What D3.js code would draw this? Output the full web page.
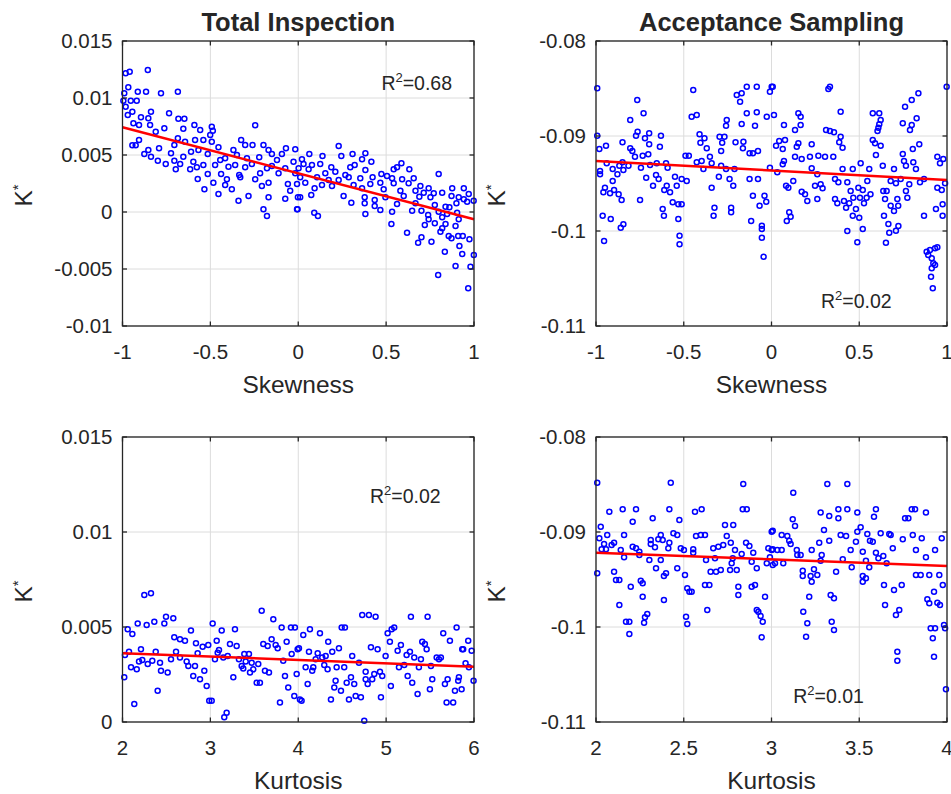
<!DOCTYPE html>
<html>
<head>
<meta charset="utf-8">
<script src="https://cdn.jsdelivr.net/npm/d3@7"></script>
<style>
  html, body { margin: 0; padding: 0; background: #ffffff; }
  svg { display: block; }
  text { font-family: "Liberation Sans", Arial, Helvetica, sans-serif; fill: #262626; }
</style>
</head>
<body>
<svg id="chart" width="951" height="794"></svg>
<script>
// ---------------- DATA ----------------
const titles = ["Total Inspection", "Acceptance Sampling"];
const xLabels = ["Skewness", "Kurtosis"];
const yLabel = "K";

const skewTicks = [-1, -0.5, 0, 0.5, 1];
const skewTickLabels = ["-1", "-0.5", "0", "0.5", "1"];
const kurtTiTicks = [2, 3, 4, 5, 6];
const kurtTiTickLabels = ["2", "3", "4", "5", "6"];
const kurtAsTicks = [2, 2.5, 3, 3.5, 4];
const kurtAsTickLabels = ["2", "2.5", "3", "3.5", "4"];
const tiSkewYTicks = [-0.01, -0.005, 0, 0.005, 0.01, 0.015];
const tiSkewYTickLabels = ["-0.01", "-0.005", "0", "0.005", "0.01", "0.015"];
const tiKurtYTicks = [0, 0.005, 0.01, 0.015];
const tiKurtYTickLabels = ["0", "0.005", "0.01", "0.015"];
const asYTicks = [-0.11, -0.1, -0.09, -0.08];
const asYTickLabels = ["-0.11", "-0.1", "-0.09", "-0.08"];

const r2Values = ["0.68", "0.02", "0.02", "0.01"];

// fitted regression lines [x, K*] at both ends
const tiSkewFit = [[-1, 0.00743], [1, -0.00064]];
const asSkewFit = [[-1, -0.09263], [1, -0.09463]];
const tiKurtFit = [[2, 0.00362], [6, 0.00291]];
const asKurtFit = [[2, -0.09218], [4, -0.09358]];

// Total Inspection vs Skewness
const tiSkew = [[-0.982,0.01217],[-0.959,0.01231],[-0.856,0.01246],[-0.967,0.01094],[-0.990,0.01041],[-0.913,0.01055],[-0.866,0.01055],[-0.781,0.01041],[-0.685,0.01055],[-0.995,0.00976],[-0.953,0.00976],[-0.919,0.00976],[-0.982,0.00924],[-0.944,0.0088],[-0.838,0.0088],[-0.735,0.00866],[-0.970,0.00851],[-0.895,0.00831],[-0.853,0.00822],[-0.682,0.00818],[-0.648,0.00818],[-0.938,0.00778],[-0.906,0.00763],[-0.843,0.00763],[-0.591,0.00763],[-0.492,0.00748],[-0.245,0.00761],[-0.762,0.00734],[-0.654,0.00731],[-0.558,0.00719],[-0.486,0.00713],[-0.811,0.00704],[-0.501,0.00675],[-0.685,0.00646],[-0.587,0.00632],[-0.540,0.00632],[-0.325,0.00632],[-0.906,0.00632],[-0.944,0.00585],[-0.925,0.00585],[-0.792,0.00559],[-0.705,0.00588],[-0.644,0.00617],[-0.492,0.00617],[-0.302,0.00588],[-0.260,0.00588],[-0.198,0.00588],[-0.070,0.00559],[-0.017,0.0055],[-0.454,0.00568],[-0.568,0.00544],[-0.369,0.00544],[-0.853,0.00544],[-0.876,0.00509],[-0.724,0.00515],[-0.610,0.00529],[-0.515,0.00509],[-0.349,0.005],[-0.169,0.00544],[-0.150,0.00509],[-0.093,0.00509],[-0.222,0.0048],[-0.838,0.00485],[-0.654,0.00485],[-0.416,0.00471],[-0.292,0.00471],[-0.799,0.0045],[-0.705,0.0045],[-0.597,0.00441],[-0.444,0.00456],[-0.121,0.00456],[-0.027,0.00441],[-0.754,0.00421],[-0.672,0.00421],[-0.540,0.00412],[-0.473,0.00412],[-0.359,0.00412],[-0.264,0.00421],[-0.150,0.00404],[-0.697,0.00375],[-0.615,0.00375],[-0.577,0.00392],[-0.397,0.00397],[-0.302,0.00392],[-0.178,0.00383],[-0.074,0.00383],[-0.515,0.00333],[-0.439,0.00333],[-0.336,0.00325],[-0.217,0.00339],[-0.112,0.00339],[-0.017,0.00339],[-0.572,0.00289],[-0.406,0.00287],[-0.245,0.00287],[-0.330,0.00304],[-0.483,0.00257],[-0.416,0.00237],[-0.207,0.00228],[-0.169,0.00257],[-0.059,0.00246],[-0.007,0.00246],[-0.534,0.00199],[-0.378,0.00199],[-0.046,0.00187],[-0.454,0.00158],[-0.283,0.0014],[-0.169,0.00129],[-0.074,0.00117],[-0.002,0.00129],[-0.340,0.00099],[-0.198,0.00024],[-0.007,0.00024],[-0.178,-0.00035],
[0.063,0.00509],[0.230,0.00579],[0.309,0.00509],[0.382,0.00515],[0.021,0.00462],[0.138,0.00491],[0.245,0.00491],[0.363,0.00462],[0.030,0.00421],[0.078,0.00412],[0.125,0.00421],[0.188,0.00392],[0.296,0.00392],[0.416,0.00441],[0.321,0.00412],[0.002,0.00383],[0.059,0.00375],[0.154,0.00339],[0.211,0.00354],[0.268,0.00325],[0.382,0.00368],[0.543,0.00375],[0.587,0.00427],[0.562,0.00392],[0.632,0.00375],[0.799,0.00333],[0.473,0.00333],[0.505,0.00316],[0.423,0.00304],[0.353,0.00296],[0.011,0.00304],[0.107,0.00304],[0.173,0.00281],[0.230,0.00281],[0.287,0.00304],[0.534,0.00296],[0.591,0.00287],[0.657,0.00296],[0.040,0.00257],[0.135,0.00237],[0.192,0.00228],[0.315,0.00237],[0.410,0.00246],[0.467,0.00257],[0.543,0.00252],[0.628,0.00252],[0.695,0.00228],[0.742,0.00208],[0.876,0.00208],[0.942,0.00208],[0.093,0.00208],[0.363,0.00208],[0.486,0.00199],[0.581,0.00187],[0.667,0.00187],[0.714,0.00169],[0.771,0.00164],[0.819,0.00169],[0.970,0.00158],[0.998,0.00099],[0.074,0.00149],[0.011,0.00129],[0.258,0.0014],[0.378,0.00129],[0.435,0.00105],[0.496,0.00129],[0.600,0.0014],[0.689,0.00134],[0.752,0.00129],[0.872,0.0014],[0.913,0.00129],[0.942,0.00111],[0.961,0.0009],[0.302,0.00082],[0.378,0.00076],[0.435,0.00053],[0.562,0.0007],[0.667,0.00076],[0.777,0.00061],[0.838,0.00046],[0.860,0.00041],[0.900,0.00076],[-0.004,0.00024],[0.467,0.00018],[0.534,0.00003],[0.648,0.00011],[0.701,0.00011],[0.799,0.00003],[0.847,-0.00018],[0.904,-0.00006],[0.091,-0.00006],[0.112,-0.00035],[0.382,-0.00018],[0.739,-0.00026],[0.819,-0.00046],[0.913,-0.00064],[0.742,-0.00064],[0.777,-0.00099],[0.530,-0.00105],[0.720,-0.00114],[0.838,-0.00105],[0.895,-0.00123],[0.819,-0.00143],[0.619,-0.00182],[0.701,-0.00222],[0.809,-0.00173],[0.856,-0.00211],[0.872,-0.00231],[0.910,-0.00211],[0.936,-0.00211],[0.682,-0.00269],[0.758,-0.00261],[0.974,-0.00239],[0.917,-0.00298],[0.834,-0.00348],[0.933,-0.00368],[0.999,-0.00377],[0.895,-0.00474],[0.980,-0.0048],[0.796,-0.00553],[0.967,-0.00669]];

// Acceptance Sampling vs Skewness
const asSkew = [[-0.993,-0.08498],[-0.765,-0.08621],[-0.729,-0.08761],[-0.805,-0.08832],[-0.446,-0.08516],[-0.455,-0.08797],[-0.426,-0.08779],[-0.141,-0.08481],[-0.084,-0.08481],[-0.198,-0.08568],[-0.170,-0.08551],[-0.179,-0.08639],[0.001,-0.08481],[-0.009,-0.08534],[-0.141,-0.08761],[-0.084,-0.08751],[-0.027,-0.08797],[-0.255,-0.08832],[-0.259,-0.08892],[-0.170,-0.08874],[-0.094,-0.08892],[-0.993,-0.08997],[-0.981,-0.09137],[-0.943,-0.09102],[-0.772,-0.08997],[-0.763,-0.08955],[-0.721,-0.09024],[-0.697,-0.08971],[-0.630,-0.08997],[-0.849,-0.09066],[-0.697,-0.09087],[-0.636,-0.09113],[-0.805,-0.09129],[-0.793,-0.09158],[-0.410,-0.08982],[-0.382,-0.09024],[-0.405,-0.09071],[-0.369,-0.09129],[-0.296,-0.09007],[-0.268,-0.09007],[-0.281,-0.09071],[-0.287,-0.09158],[-0.205,-0.09066],[-0.160,-0.0906],[-0.163,-0.09129],[-0.125,-0.09182],[-0.106,-0.09182],[-0.077,-0.09158],[-0.490,-0.09207],[-0.471,-0.09207],[-0.939,-0.09287],[-0.867,-0.09313],[-0.849,-0.09277],[-0.778,-0.09218],[-0.734,-0.09207],[-0.702,-0.09193],[-0.654,-0.09287],[-0.601,-0.09287],[-0.905,-0.09347],[-0.815,-0.09313],[-0.744,-0.09334],[-0.592,-0.09334],[-0.692,-0.09305],[-0.426,-0.09277],[-0.398,-0.09263],[-0.351,-0.09218],[-0.341,-0.09287],[-0.388,-0.09347],[-0.287,-0.09313],[-0.259,-0.09347],[-0.211,-0.09347],[-0.977,-0.09368],[-0.977,-0.09403],[-0.878,-0.09403],[-0.844,-0.09358],[-0.714,-0.09439],[-0.658,-0.09411],[-0.550,-0.09428],[-0.512,-0.09453],[-0.483,-0.09474],[-0.300,-0.09428],[-0.239,-0.09453],[-0.125,-0.09453],[-0.077,-0.09453],[-0.905,-0.09474],[-0.949,-0.09544],[-0.897,-0.09568],[-0.920,-0.09603],[-0.958,-0.09593],[-0.871,-0.09614],[-0.675,-0.09523],[-0.643,-0.09453],[-0.611,-0.09568],[-0.597,-0.09523],[-0.578,-0.09593],[-0.540,-0.09523],[-0.341,-0.09544],[-0.218,-0.09523],[-0.106,-0.09628],[-0.040,-0.09628],[-0.854,-0.09674],[-0.749,-0.09674],[-0.563,-0.09698],[-0.531,-0.09719],[-0.512,-0.09719],[-0.068,-0.09734],[-0.030,-0.09692],[-0.620,-0.09768],[-0.613,-0.09839],[-0.325,-0.09755],[-0.330,-0.09839],[-0.230,-0.09755],[-0.230,-0.09803],[-0.962,-0.09839],[-0.916,-0.09874],[-0.531,-0.09874],[-0.116,-0.09895],[-0.844,-0.09929],[-0.859,-0.09965],[-0.055,-0.09944],[-0.055,-0.09979],[-0.954,-0.10105],[-0.524,-0.10049],[-0.524,-0.1014],[-0.055,-0.1007],[-0.045,-0.10271],
[0.007,-0.08481],[0.333,-0.08481],[0.324,-0.08505],[0.837,-0.08551],[0.799,-0.08621],[0.761,-0.08691],[0.998,-0.08481],[0.394,-0.08744],[0.153,-0.08761],[0.166,-0.08797],[0.014,-0.08779],[0.577,-0.08761],[0.614,-0.08761],[0.622,-0.08832],[0.827,-0.08814],[0.748,-0.08867],[0.614,-0.08877],[0.071,-0.08884],[0.166,-0.08884],[0.134,-0.08937],[0.609,-0.08912],[0.604,-0.08947],[0.799,-0.08884],[0.789,-0.08937],[0.311,-0.08937],[0.333,-0.08947],[0.356,-0.08961],[0.394,-0.09007],[0.044,-0.09053],[0.077,-0.09042],[0.026,-0.09102],[0.064,-0.09137],[0.153,-0.09077],[0.144,-0.09113],[0.229,-0.09087],[0.386,-0.09066],[0.405,-0.09123],[0.577,-0.09042],[0.590,-0.09077],[0.622,-0.09102],[0.842,-0.09087],[0.805,-0.09137],[0.134,-0.09218],[0.172,-0.09242],[0.219,-0.09218],[0.267,-0.09207],[0.305,-0.09218],[0.352,-0.09218],[0.071,-0.09263],[0.595,-0.092],[0.748,-0.09189],[0.755,-0.09263],[0.808,-0.09277],[0.766,-0.09313],[0.823,-0.09347],[0.945,-0.09218],[0.979,-0.09242],[0.960,-0.09287],[-0.009,-0.09334],[0.064,-0.09298],[0.033,-0.09382],[0.229,-0.0934],[0.261,-0.09403],[0.405,-0.09347],[0.463,-0.09347],[0.508,-0.09287],[0.557,-0.09347],[0.634,-0.09313],[0.698,-0.09347],[0.362,-0.09453],[0.381,-0.09488],[0.432,-0.09488],[0.546,-0.09474],[0.679,-0.09474],[0.709,-0.09498],[0.736,-0.09453],[0.785,-0.09508],[0.846,-0.09488],[0.869,-0.09453],[0.989,-0.09498],[0.083,-0.09523],[0.124,-0.09474],[0.096,-0.09544],[0.248,-0.09523],[0.280,-0.09508],[0.291,-0.09551],[0.495,-0.09544],[0.520,-0.09568],[0.637,-0.09579],[0.656,-0.09579],[0.766,-0.09579],[0.945,-0.09544],[0.970,-0.09568],[0.172,-0.09586],[0.191,-0.09614],[0.451,-0.09579],[0.466,-0.09649],[0.504,-0.09649],[0.542,-0.09649],[0.564,-0.09614],[0.362,-0.09663],[0.204,-0.09684],[0.261,-0.09663],[0.413,-0.09684],[0.647,-0.09663],[0.717,-0.09663],[0.774,-0.09649],[0.375,-0.09709],[0.443,-0.09709],[0.527,-0.09709],[0.425,-0.09755],[0.481,-0.09768],[0.679,-0.09734],[0.722,-0.09734],[0.698,-0.09789],[0.937,-0.09768],[0.975,-0.09719],[0.101,-0.09803],[0.109,-0.09849],[0.087,-0.09895],[0.463,-0.09839],[0.500,-0.0986],[0.641,-0.09839],[0.869,-0.09839],[0.975,-0.09839],[0.666,-0.09926],[0.723,-0.09947],[0.432,-0.1],[0.520,-0.09979],[0.709,-0.09997],[0.671,-0.10018],[0.489,-0.10119],[0.652,-0.10123],[0.884,-0.10218],[0.903,-0.102],[0.932,-0.10182],[0.945,-0.10172],[0.893,-0.10253],[0.913,-0.10287],[0.922,-0.1034],[0.932,-0.10358],[0.913,-0.10393],[0.909,-0.10481],[0.919,-0.10603]];

// Total Inspection vs Kurtosis
const tiKurt = [[2.248,0.00668],[2.324,0.00677],[2.059,0.00488],[2.112,0.00463],[2.173,0.00519],[2.275,0.00511],[2.362,0.00528],[2.476,0.00519],[2.495,0.00554],[2.578,0.00546],[2.779,0.00481],[2.589,0.00446],[2.654,0.00435],[2.711,0.00428],[2.836,0.00414],[2.912,0.00396],[2.976,0.00405],[3.026,0.00519],[3.129,0.00481],[3.280,0.00488],[3.072,0.00428],[3.223,0.00411],[3.299,0.004],[3.584,0.00586],[3.716,0.00541],[3.811,0.00498],[3.917,0.00498],[3.962,0.00498],[3.602,0.00411],[3.697,0.00435],[3.652,0.004],[3.743,0.00405],[3.766,0.00388],[3.868,0.00423],[3.993,0.00383],[2.074,0.0037],[2.210,0.00383],[2.378,0.0037],[2.609,0.0037],[2.855,0.00362],[3.098,0.00379],[3.083,0.00365],[3.197,0.00347],[3.386,0.00358],[3.439,0.00358],[3.925,0.00358],[2.028,0.00353],[2.225,0.00326],[2.339,0.00323],[2.552,0.0033],[2.654,0.0034],[3.052,0.0033],[3.147,0.0034],[2.188,0.00318],[2.287,0.00305],[2.427,0.00312],[2.730,0.00318],[3.325,0.0033],[3.402,0.00318],[3.470,0.00312],[3.545,0.00305],[3.829,0.00323],[2.749,0.00295],[2.825,0.00295],[3.356,0.00295],[2.097,0.00288],[2.162,0.00277],[2.438,0.0027],[2.514,0.0026],[2.931,0.0027],[3.374,0.00282],[3.451,0.0026],[3.488,0.00277],[3.621,0.0027],[3.667,0.0026],[2.020,0.00235],[2.805,0.00242],[2.882,0.00225],[3.261,0.00235],[3.849,0.00242],[3.982,0.00253],[2.958,0.00189],[2.400,0.00165],[3.527,0.00207],[3.564,0.00207],[3.886,0.00182],[3.955,0.00137],[2.987,0.00112],[3.015,0.00112],[2.134,0.00095],[3.792,0.00102],[3.185,0.00049],[3.158,0.00025],
[4.728,0.00563],[4.804,0.00563],[4.880,0.00554],[5.282,0.00554],[5.472,0.00554],[4.494,0.00498],[4.531,0.00498],[4.133,0.00488],[4.247,0.00467],[4.057,0.00458],[4.341,0.00423],[5.063,0.00488],[5.092,0.00498],[5.017,0.00467],[5.043,0.00423],[5.411,0.00423],[5.441,0.00411],[5.168,0.00405],[5.131,0.00375],[5.461,0.00383],[5.650,0.00467],[5.802,0.00498],[5.726,0.00428],[5.934,0.00428],[5.866,0.00383],[5.973,0.00375],[4.008,0.00388],[4.122,0.0037],[4.221,0.00362],[4.312,0.00347],[4.463,0.00388],[4.387,0.0037],[4.614,0.00347],[4.827,0.00393],[4.903,0.00383],[4.994,0.00347],[5.233,0.00353],[5.271,0.0037],[5.320,0.0034],[5.396,0.0033],[5.575,0.0034],[5.601,0.0033],[5.623,0.0034],[5.877,0.00383],[4.198,0.0033],[4.273,0.0034],[4.691,0.00312],[5.904,0.00309],[4.084,0.00288],[4.171,0.00288],[4.296,0.003],[4.334,0.00277],[4.437,0.00288],[4.523,0.00288],[4.159,0.0027],[5.146,0.00288],[5.206,0.003],[5.373,0.00288],[5.510,0.00295],[5.942,0.00288],[4.767,0.00265],[4.865,0.00253],[4.930,0.00265],[4.956,0.00242],[5.245,0.00242],[4.425,0.00217],[4.551,0.00207],[4.600,0.00235],[4.637,0.002],[4.767,0.00225],[4.790,0.002],[4.842,0.00225],[5.297,0.00207],[5.525,0.00225],[5.700,0.00225],[5.669,0.002],[5.828,0.00235],[5.820,0.00217],[5.995,0.00217],[4.107,0.002],[4.410,0.00182],[4.486,0.00165],[5.054,0.00189],[5.498,0.00172],[5.859,0.00172],[5.783,0.00165],[4.019,0.00119],[4.038,0.00112],[4.372,0.00119],[4.577,0.00119],[4.653,0.00137],[4.713,0.0013],[4.941,0.0013],[5.358,0.00147],[5.688,0.00102],[5.763,0.00102],[4.751,0.00007]];

// Acceptance Sampling vs Kurtosis
const asKurt = [[2.007,-0.08481],[2.426,-0.08481],[2.839,-0.08495],[2.076,-0.08786],[2.152,-0.08761],[2.228,-0.08761],[2.418,-0.08761],[2.209,-0.08891],[2.323,-0.08856],[2.475,-0.08874],[2.564,-0.08786],[2.602,-0.08761],[2.836,-0.08761],[2.859,-0.08761],[2.735,-0.08926],[2.782,-0.08926],[2.027,-0.08944],[2.064,-0.09032],[2.160,-0.09032],[2.019,-0.09066],[2.046,-0.09126],[2.089,-0.09137],[2.103,-0.09113],[2.032,-0.09182],[2.057,-0.09182],[2.141,-0.09189],[2.160,-0.09266],[2.209,-0.09155],[2.228,-0.09172],[2.247,-0.09207],[2.247,-0.09242],[2.312,-0.09084],[2.312,-0.09126],[2.336,-0.09161],[2.369,-0.09032],[2.355,-0.09077],[2.380,-0.09084],[2.418,-0.09113],[2.412,-0.09172],[2.441,-0.09014],[2.463,-0.09032],[2.483,-0.09172],[2.501,-0.09189],[2.554,-0.09182],[2.554,-0.09218],[2.570,-0.09042],[2.597,-0.09032],[2.621,-0.09032],[2.668,-0.09172],[2.697,-0.09155],[2.725,-0.09137],[2.745,-0.09042],[2.768,-0.09113],[2.792,-0.09189],[2.855,-0.09113],[2.874,-0.09147],[2.896,-0.09218],[2.830,-0.09232],[3.001,-0.08997],[2.982,-0.09172],[3.001,-0.09189],[2.304,-0.09295],[2.369,-0.09295],[2.627,-0.09295],[2.678,-0.09277],[2.779,-0.09277],[2.887,-0.09313],[2.973,-0.0933],[3.007,-0.09347],[2.342,-0.09382],[2.463,-0.09382],[2.773,-0.0933],[2.802,-0.094],[2.764,-0.094],[2.916,-0.09382],[2.007,-0.09435],[2.103,-0.09418],[2.653,-0.09418],[2.684,-0.09418],[2.711,-0.094],[2.399,-0.09435],[2.387,-0.09463],[2.507,-0.09453],[2.114,-0.09505],[2.133,-0.09505],[2.255,-0.09512],[2.266,-0.0954],[2.198,-0.09576],[2.520,-0.09593],[2.532,-0.09628],[2.545,-0.09628],[2.621,-0.09558],[2.646,-0.09558],[2.811,-0.09576],[2.811,-0.09663],[2.887,-0.09576],[2.906,-0.09558],[2.266,-0.09681],[2.387,-0.09716],[2.963,-0.09681],[2.133,-0.09768],[2.634,-0.09821],[2.916,-0.09821],[2.925,-0.09839],[2.938,-0.09884],[2.950,-0.09944],[2.292,-0.09863],[2.279,-0.09898],[2.274,-0.09954],[2.513,-0.09891],[2.520,-0.09968],[2.171,-0.09944],[2.190,-0.09944],[2.190,-0.10074],[2.944,-0.10109],
[3.318,-0.08495],[3.432,-0.08495],[3.124,-0.08586],[3.280,-0.08796],[3.329,-0.08832],[3.381,-0.08761],[3.432,-0.08761],[3.489,-0.08796],[3.381,-0.08856],[3.595,-0.08761],[3.584,-0.08839],[3.761,-0.08856],[3.780,-0.08856],[3.799,-0.08761],[3.818,-0.08761],[3.880,-0.08796],[3.121,-0.08867],[3.134,-0.08937],[3.299,-0.08979],[3.508,-0.08951],[3.489,-0.08997],[3.007,-0.08986],[3.058,-0.09032],[3.090,-0.09042],[3.101,-0.09092],[3.109,-0.09126],[3.394,-0.09032],[3.425,-0.09042],[3.329,-0.09092],[3.272,-0.09113],[3.546,-0.09021],[3.561,-0.09092],[3.577,-0.09102],[3.622,-0.09014],[3.671,-0.09021],[3.679,-0.09032],[3.748,-0.09077],[3.805,-0.09032],[3.856,-0.09066],[3.970,-0.09066],[3.481,-0.09102],[3.007,-0.09182],[3.033,-0.09189],[3.058,-0.09189],[3.144,-0.09189],[3.229,-0.09189],[3.451,-0.09189],[3.520,-0.09207],[3.595,-0.09218],[3.691,-0.09172],[3.823,-0.09189],[3.932,-0.09189],[3.147,-0.09242],[3.166,-0.09242],[3.286,-0.09242],[3.609,-0.09277],[3.637,-0.09253],[3.880,-0.09266],[2.991,-0.09266],[3.020,-0.0933],[3.067,-0.0933],[3.280,-0.09302],[3.406,-0.09288],[3.457,-0.09372],[3.538,-0.09302],[3.557,-0.09372],[3.656,-0.0933],[3.242,-0.09393],[3.178,-0.09407],[3.178,-0.09463],[3.223,-0.09463],[3.261,-0.09453],[3.368,-0.09418],[3.520,-0.09463],[3.538,-0.09488],[3.520,-0.09523],[3.823,-0.09453],[3.850,-0.09453],[3.899,-0.09453],[3.956,-0.09453],[3.229,-0.09523],[3.641,-0.09558],[3.698,-0.09611],[3.742,-0.09558],[3.976,-0.09558],[3.926,-0.09628],[3.215,-0.09681],[3.337,-0.09663],[3.356,-0.09698],[3.888,-0.09709],[3.899,-0.09751],[3.945,-0.09744],[3.960,-0.09768],[3.647,-0.09768],[3.728,-0.09821],[3.709,-0.09874],[3.181,-0.09839],[3.204,-0.09961],[3.343,-0.09944],[3.356,-0.10032],[3.197,-0.10102],[3.907,-0.10014],[3.932,-0.10014],[3.983,-0.09979],[3.989,-0.10014],[3.919,-0.10119],[3.926,-0.10313],[3.717,-0.1026],[3.717,-0.10354],[3.994,-0.10656]];

// ---------------- LAYOUT ----------------
const panels = [
  { pts: tiSkew, fit: tiSkewFit, xDom: [-1, 1], yDom: [-0.01, 0.015],
    xTicks: skewTicks, xTickLabels: skewTickLabels, yTicks: tiSkewYTicks, yTickLabels: tiSkewYTickLabels,
    title: titles[0], xlab: xLabels[0], r2: r2Values[0], r2At: [0.473, 0.0107],
    box: { l: 122.5, t: 41, r: 474, b: 326 } },
  { pts: asSkew, fit: asSkewFit, xDom: [-1, 1], yDom: [-0.11, -0.08],
    xTicks: skewTicks, xTickLabels: skewTickLabels, yTicks: asYTicks, yTickLabels: asYTickLabels,
    title: titles[1], xlab: xLabels[0], r2: r2Values[1], r2At: [0.282, -0.1081],
    box: { l: 596, t: 41, r: 947, b: 326 } },
  { pts: tiKurt, fit: tiKurtFit, xDom: [2, 6], yDom: [0, 0.015],
    xTicks: kurtTiTicks, xTickLabels: kurtTiTickLabels, yTicks: tiKurtYTicks, yTickLabels: tiKurtYTickLabels,
    title: null, xlab: xLabels[1], r2: r2Values[2], r2At: [4.816, 0.01153],
    box: { l: 122.5, t: 437, r: 474, b: 722 } },
  { pts: asKurt, fit: asKurtFit, xDom: [2, 4], yDom: [-0.11, -0.08],
    xTicks: kurtAsTicks, xTickLabels: kurtAsTickLabels, yTicks: asYTicks, yTickLabels: asYTickLabels,
    title: null, xlab: xLabels[1], r2: r2Values[3], r2At: [3.124, -0.1080],
    box: { l: 596, t: 437, r: 947, b: 722 } }
];

const svg = d3.select("#chart");
const axisColor = "#262626";
const gridColor = "#dcdcdc";
const tickLen = 4.5;

panels.forEach(p => {
  const B = p.box;
  const x = d3.scaleLinear().domain(p.xDom).range([B.l, B.r]);
  const y = d3.scaleLinear().domain(p.yDom).range([B.b, B.t]);
  const g = svg.append("g");

  // grid
  g.append("g").selectAll("line.gx").data(p.xTicks).join("line")
    .attr("x1", d => x(d)).attr("x2", d => x(d)).attr("y1", B.t).attr("y2", B.b)
    .attr("stroke", gridColor).attr("stroke-width", 1);
  g.append("g").selectAll("line.gy").data(p.yTicks).join("line")
    .attr("y1", d => y(d)).attr("y2", d => y(d)).attr("x1", B.l).attr("x2", B.r)
    .attr("stroke", gridColor).attr("stroke-width", 1);

  // points
  g.append("g").selectAll("circle").data(p.pts).join("circle")
    .attr("cx", d => x(d[0])).attr("cy", d => y(d[1])).attr("r", 2.5)
    .attr("fill", "none").attr("stroke", "#0000ff").attr("stroke-width", 1.5);

  // fit line
  g.append("path").datum(p.fit)
    .attr("d", d3.line().x(d => x(d[0])).y(d => y(d[1])))
    .attr("fill", "none").attr("stroke", "#ff0000").attr("stroke-width", 2.5);

  // frame
  g.append("rect").attr("x", B.l).attr("y", B.t).attr("width", B.r - B.l).attr("height", B.b - B.t)
    .attr("fill", "none").attr("stroke", axisColor).attr("stroke-width", 1.3);

  // ticks inside on all sides
  const tk = g.append("g").attr("stroke", axisColor).attr("stroke-width", 1.3);
  p.xTicks.forEach(d => {
    tk.append("line").attr("x1", x(d)).attr("x2", x(d)).attr("y1", B.b).attr("y2", B.b - tickLen);
    tk.append("line").attr("x1", x(d)).attr("x2", x(d)).attr("y1", B.t).attr("y2", B.t + tickLen);
  });
  p.yTicks.forEach(d => {
    tk.append("line").attr("y1", y(d)).attr("y2", y(d)).attr("x1", B.l).attr("x2", B.l + tickLen);
    tk.append("line").attr("y1", y(d)).attr("y2", y(d)).attr("x1", B.r).attr("x2", B.r - tickLen);
  });

  // tick labels
  g.append("g").selectAll("text").data(p.xTicks).join("text")
    .attr("x", d => x(d)).attr("y", B.b + 33).attr("text-anchor", "middle")
    .attr("font-size", 20.5).text((d, i) => p.xTickLabels[i]);
  g.append("g").selectAll("text").data(p.yTicks).join("text")
    .attr("x", B.l - 10).attr("y", d => y(d) + 7).attr("text-anchor", "end")
    .attr("font-size", 20.5).text((d, i) => p.yTickLabels[i]);

  // x label
  g.append("text").attr("x", (B.l + B.r) / 2).attr("y", B.b + 67).attr("text-anchor", "middle")
    .attr("font-size", 24.5).text(p.xlab);

  // y label K*
  const yl = g.append("text").attr("transform", `translate(${B.l - 91},${(B.t + B.b) / 2 + 23}) rotate(-90)`)
    .attr("text-anchor", "start").attr("font-size", 24.5);
  yl.append("tspan").text(yLabel);
  yl.append("tspan").attr("font-size", 15).attr("dy", -9).text("*");

  // title
  if (p.title) {
    g.append("text").attr("x", (B.l + B.r) / 2).attr("y", B.t - 10).attr("text-anchor", "middle")
      .attr("font-size", 25.5).attr("font-weight", "bold").attr("fill", "#000").text(p.title);
  }

  // R^2 annotation
  const t = g.append("text").attr("x", x(p.r2At[0])).attr("y", y(p.r2At[1])).attr("font-size", 19.5).attr("fill", "#000");
  t.append("tspan").text("R");
  t.append("tspan").attr("font-size", 13).attr("dy", -8).text("2");
  t.append("tspan").attr("dy", 8).text("=" + p.r2);
});
</script>
</body>
</html>
